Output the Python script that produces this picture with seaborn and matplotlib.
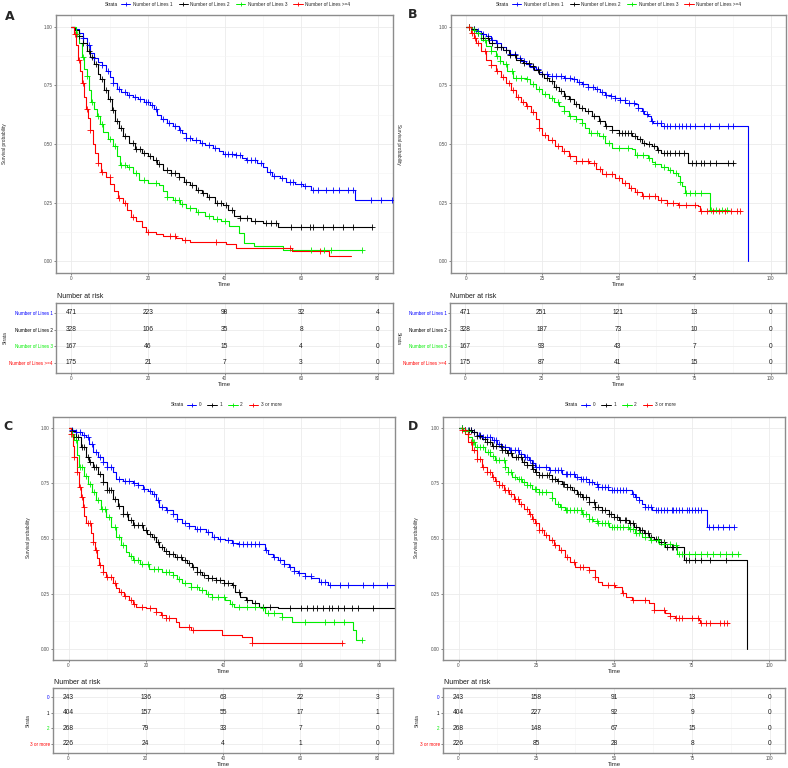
"""
Courbes de survie Kaplan-Meier (4 panneaux) avec tableaux des effectifs a risque
"""

import numpy as np
import pandas as pd
import matplotlib
matplotlib.use("Agg")
import matplotlib.pyplot as plt
from matplotlib.lines import Line2D
import seaborn as sns

sns.set_theme(style="whitegrid")
plt.rcParams['font.family'] = ['Liberation Sans', 'DejaVu Sans']

W, H = 788, 768

COLORS = ['#0000FF', '#000000', '#00EE00', '#FF0000']
STRATA_LINES = ['Number of Lines 1', 'Number of Lines 2', 'Number of Lines 3', 'Number of Lines >=4']
STRATA_PRIOR = ['0', '1', '2', '3 or more']

TICKS_80 = [0, 20, 40, 60, 80]
TICKS_100 = [0, 25, 50, 75, 100]

# ---- Panel A : courbes (temps, survie) ----
A1 = [(0, 1.0), (1, 0.99), (2, 0.975), (3, 0.95), (4, 0.92), (5, 0.89), (6, 0.865), (7, 0.85), (8, 0.835),
      (9, 0.81), (10, 0.785), (11, 0.76), (12, 0.735), (13, 0.72), (14.5, 0.71), (16, 0.70), (17.5, 0.69),
      (19, 0.68), (20.5, 0.665), (21.7, 0.65), (22.5, 0.625), (23.5, 0.605), (25, 0.59), (26.5, 0.576),
      (28, 0.56), (29, 0.545), (30, 0.525), (31.5, 0.515), (33.5, 0.505), (35, 0.495), (37, 0.485),
      (38.5, 0.47), (39.5, 0.458), (43, 0.452), (44.5, 0.44), (45.5, 0.43), (48.5, 0.42), (50, 0.40),
      (51, 0.38), (52.5, 0.365), (54.5, 0.355), (56, 0.34), (58.5, 0.33), (60.5, 0.32), (62.5, 0.305),
      (74, 0.263), (84, 0.263)]
A2 = [(0, 1.0), (1, 0.985), (2, 0.96), (3, 0.93), (4, 0.895), (5, 0.87), (6, 0.84), (7, 0.80), (7.5, 0.775),
      (8.5, 0.73), (9.5, 0.69), (10.5, 0.645), (11.5, 0.60), (12.5, 0.57), (13.5, 0.535), (15, 0.505),
      (16.5, 0.48), (18.5, 0.462), (20, 0.45), (21.3, 0.43), (22.5, 0.415), (24, 0.39), (26, 0.375),
      (28, 0.36), (29.5, 0.34), (31, 0.325), (32.5, 0.305), (34, 0.29), (35.5, 0.272), (37.5, 0.25),
      (39.5, 0.24), (41, 0.22), (42.5, 0.195), (44, 0.185), (47, 0.17), (50, 0.162), (54, 0.148), (78.5, 0.148)]
A3 = [(0, 1.0), (1.2, 0.97), (2, 0.93), (2.7, 0.87), (3.3, 0.82), (4, 0.79), (4.6, 0.73), (5.2, 0.68),
      (6, 0.65), (6.8, 0.62), (7.5, 0.585), (8.3, 0.55), (9.5, 0.52), (11, 0.49), (12, 0.45), (12.8, 0.41),
      (14.5, 0.40), (16, 0.377), (17.8, 0.345), (20, 0.335), (23, 0.327), (24, 0.30), (25, 0.275),
      (26.5, 0.26), (28.3, 0.245), (30, 0.228), (32.5, 0.21), (35, 0.192), (37, 0.18), (39, 0.17),
      (41.3, 0.15), (43.8, 0.12), (45.2, 0.08), (47.8, 0.064), (55.2, 0.05), (76, 0.05)]
A4 = [(0, 1.0), (0.8, 0.97), (1.3, 0.92), (1.8, 0.86), (2.3, 0.81), (2.8, 0.76), (3.3, 0.70), (3.9, 0.65),
      (4.4, 0.61), (5, 0.56), (5.6, 0.50), (6.2, 0.46), (7, 0.42), (7.8, 0.38), (9, 0.36), (10.2, 0.33),
      (11.2, 0.30), (12.3, 0.27), (13.5, 0.25), (14.5, 0.22), (15.5, 0.19), (17, 0.17), (18.5, 0.145),
      (19.6, 0.125), (22, 0.115), (24, 0.108), (27.4, 0.10), (29, 0.09), (31, 0.083), (40.4, 0.072),
      (43, 0.057), (57.5, 0.045), (67.4, 0.022), (73, 0.022)]
A1_CENS = [3, 4.5, 6, 8, 9.5, 11, 12.5, 14, 15, 16.5, 18, 19.5, 20, 21, 22, 24, 25.5, 27, 28.5, 30, 31, 32.5,
           34, 36, 37.5, 40, 41, 42, 43, 44, 46, 47, 48, 49.5, 52, 53, 55, 57, 58, 60, 61, 63, 64.3, 66.5,
           68.3, 70, 72.2, 73.5, 78.3, 80.9, 83.8]
A2_CENS = [2, 3, 4.5, 5.5, 6.5, 8, 9, 10, 11, 12, 13, 14, 16, 17, 18, 19, 20.5, 22, 23, 25, 26, 27, 28, 30,
           31.5, 33, 34.5, 36, 38, 39, 40.5, 42, 44, 46, 48, 50.9, 52.2, 53.5, 57.4, 60, 62.2, 63, 65.7,
           68.3, 70.9, 73.5, 78.5]
A3_CENS = [1.5, 3, 4, 5.5, 7, 8, 10, 11.5, 13, 14, 15, 17, 19, 22, 25, 27, 28, 29, 31, 33, 36, 38, 40,
           62.6, 66.1, 67.8, 76]
A4_CENS = [1, 2, 3, 4, 5, 7, 8, 10, 12.5, 14, 16, 20, 25.7, 27, 29.6, 37.8, 57, 65]

# ---- Panel B ----
B1 = [(0, 1.0), (2, 0.99), (3.5, 0.98), (5, 0.97), (6.5, 0.96), (8, 0.945), (9.8, 0.93), (11.5, 0.915),
      (13, 0.90), (14.5, 0.885), (16.3, 0.868), (18, 0.855), (19.6, 0.84), (21, 0.83), (22.8, 0.818),
      (24, 0.805), (25, 0.797), (27, 0.792), (29.3, 0.788), (32, 0.783), (34.8, 0.775), (36.5, 0.765),
      (38, 0.754), (40, 0.745), (42.4, 0.733), (44, 0.722), (45.7, 0.711), (47.5, 0.703), (48.9, 0.697),
      (50.5, 0.687), (52.2, 0.676), (55.4, 0.669), (56.5, 0.655), (57.6, 0.64), (58.5, 0.63),
      (59.8, 0.619), (60.6, 0.60), (61.4, 0.59), (64.1, 0.576), (92.4, 0.576), (92.4, 0.0)]
B2 = [(0, 1.0), (2, 0.99), (3.3, 0.974), (5.5, 0.95), (7.6, 0.93), (10, 0.915), (12, 0.90), (14, 0.88),
      (16.3, 0.86), (18.5, 0.845), (20.7, 0.832), (22.3, 0.815), (23.9, 0.797), (25.5, 0.78), (27.2, 0.768),
      (28.8, 0.745), (30.4, 0.725), (32, 0.705), (33.7, 0.69), (35.3, 0.67), (37, 0.654), (39, 0.64),
      (41.3, 0.619), (43.5, 0.60), (45.7, 0.576), (48, 0.56), (50, 0.548), (52, 0.545), (54.3, 0.533),
      (56, 0.52), (57.6, 0.505), (59, 0.50), (60.9, 0.49), (62.5, 0.475), (64.1, 0.462), (72.3, 0.46),
      (72.8, 0.42), (88, 0.42)]
B3 = [(0, 1.0), (2, 0.985), (3.3, 0.974), (5, 0.945), (6.5, 0.917), (8, 0.895), (9.8, 0.875), (11, 0.855),
      (12, 0.84), (13.5, 0.81), (15.2, 0.78), (19.6, 0.775), (21, 0.755), (22.8, 0.733), (25, 0.715),
      (27.2, 0.697), (28.8, 0.68), (30.4, 0.661), (32, 0.64), (33.7, 0.619), (36, 0.605), (38, 0.59),
      (39, 0.57), (40.2, 0.548), (43.5, 0.533), (45.7, 0.505), (47.8, 0.484), (54.3, 0.477), (55.4, 0.455),
      (59.8, 0.441), (61, 0.425), (62, 0.413), (64, 0.40), (66.3, 0.391), (68, 0.375), (69.6, 0.363),
      (70.2, 0.34), (70.7, 0.32), (71.7, 0.292), (79.3, 0.292), (79.9, 0.22), (85.9, 0.22)]
B4 = [(0, 1.0), (1.6, 0.974), (2.5, 0.95), (3.3, 0.93), (4.8, 0.895), (6.5, 0.86), (8, 0.835), (9.8, 0.81),
      (11.5, 0.785), (13, 0.76), (14.7, 0.73), (16.3, 0.70), (18, 0.68), (19.6, 0.661), (21.2, 0.635),
      (22.8, 0.605), (24, 0.57), (25, 0.54), (27, 0.515), (29.3, 0.49), (31.5, 0.47), (33.7, 0.448),
      (35.9, 0.427), (40.2, 0.42), (42.5, 0.395), (44.6, 0.37), (48.9, 0.356), (51, 0.335), (53.3, 0.313),
      (55.5, 0.295), (57.6, 0.277), (63, 0.263), (66, 0.25), (69.6, 0.242), (76.1, 0.235), (76.6, 0.213),
      (90.2, 0.213)]
B1_CENS = [1, 2.5, 4, 5.5, 7, 8.5, 10, 11.5, 13, 14.5, 16, 17.5, 19, 20.5, 22, 23.5, 25, 26.5, 28, 29.5, 31,
           32.5, 34, 35.5, 37, 38.5, 40, 41.5, 43, 44.5, 46, 47.5, 49, 50.5, 52, 53.5, 55, 56.5, 58, 59.5,
           61, 62.5, 64, 65, 66, 67, 68.5, 70, 71, 72, 73.5, 75, 78, 80, 83, 86, 87.5]
B2_CENS = [1, 2.5, 4, 5.5, 7, 8.5, 10, 11.5, 13, 14.5, 16, 17.5, 19, 20.5, 22, 23.5, 25, 26.5, 28, 29.5, 31,
           32.5, 34, 36, 38, 40, 42, 44, 46, 48, 50, 51, 52, 53, 54, 55.5, 57, 58.5, 60, 61.5, 63, 65, 66,
           67, 68.5, 70, 71.5, 74, 75.5, 77, 78, 80, 82, 86, 87.5]
B3_CENS = [1, 2.5, 4, 6, 8, 10, 11, 13, 15, 16.5, 18, 20, 22, 24, 26, 28, 30, 32, 34, 36, 38, 41, 43, 45,
           47, 50, 53, 56, 58, 60, 62, 65, 67, 69, 70.2, 72, 73.5, 75, 77, 80.5, 82, 84, 85.5]
B4_CENS = [1, 2, 3, 4, 6, 8, 10, 12, 14, 15.5, 17, 18.5, 20, 22, 24, 26, 28, 30, 32, 34, 36, 38, 40, 42,
           44, 46, 48, 50, 52, 54, 56, 58, 60, 62, 64, 66, 68, 70, 72, 75, 77, 79, 81, 83, 85, 87, 89, 90]

# ---- Panel C ----
C1 = [(0, 1.0), (1, 0.99), (2, 0.98), (3.5, 0.97), (4.5, 0.96), (5.3, 0.93), (6.2, 0.89), (7.5, 0.87),
      (8.8, 0.845), (10, 0.825), (11.4, 0.80), (12.2, 0.77), (14, 0.76), (16.5, 0.75), (17.8, 0.74),
      (19.1, 0.726), (20.5, 0.713), (21.6, 0.703), (22.5, 0.675), (23.3, 0.643), (25, 0.63), (26.8, 0.613),
      (28, 0.59), (29.3, 0.568), (31, 0.555), (32.7, 0.545), (35.3, 0.53), (37, 0.508), (38.5, 0.50),
      (40.4, 0.492), (42, 0.48), (43.8, 0.474), (49.8, 0.474), (50.7, 0.45), (51.5, 0.432), (52.8, 0.415),
      (54.1, 0.402), (55.5, 0.385), (56.7, 0.372), (58, 0.355), (59.2, 0.342), (60.9, 0.33), (62.6, 0.32),
      (64.5, 0.305), (66.9, 0.289), (84, 0.289)]
C2 = [(0, 1.0), (1, 0.985), (2, 0.96), (3.2, 0.915), (4.5, 0.87), (5.3, 0.845), (6.2, 0.824), (7.5, 0.79),
      (8.8, 0.756), (10, 0.72), (11.4, 0.68), (12.7, 0.645), (14, 0.613), (15.2, 0.585), (16.5, 0.56),
      (19.1, 0.538), (20.3, 0.52), (21.6, 0.508), (22.5, 0.485), (23.3, 0.462), (24.5, 0.445), (25.9, 0.432),
      (27.5, 0.418), (29.3, 0.402), (30.5, 0.388), (31.9, 0.372), (33, 0.35), (34.4, 0.334), (36, 0.322),
      (37.9, 0.312), (40, 0.30), (42.1, 0.289), (43, 0.26), (44.3, 0.236), (45.8, 0.22), (47.3, 0.206),
      (49, 0.191), (54.1, 0.184), (84, 0.184)]
C3 = [(0, 1.0), (0.8, 0.975), (1.5, 0.944), (2.1, 0.88), (2.8, 0.824), (3.9, 0.785), (5, 0.748), (6, 0.71),
      (7.1, 0.673), (8.4, 0.635), (9.7, 0.598), (11, 0.55), (12.2, 0.508), (13.5, 0.47), (14.8, 0.44),
      (15.6, 0.42), (16.5, 0.402), (18.5, 0.385), (20.8, 0.364), (24.2, 0.35), (26.8, 0.334), (28, 0.315),
      (29.3, 0.297), (31.5, 0.28), (33.6, 0.267), (35.3, 0.25), (37, 0.236), (40.4, 0.221), (41.5, 0.205),
      (42.6, 0.191), (49.8, 0.184), (50.7, 0.161), (55, 0.146), (57.5, 0.123), (72.5, 0.123), (73.3, 0.086),
      (74.2, 0.041), (75.5, 0.041)]
C4 = [(0, 1.0), (0.7, 0.974), (1.1, 0.92), (1.5, 0.869), (2.1, 0.80), (2.8, 0.733), (3.2, 0.69), (3.7, 0.643),
      (4.1, 0.60), (4.5, 0.568), (5.8, 0.523), (6.2, 0.485), (6.7, 0.447), (7.3, 0.41), (7.9, 0.38),
      (8.8, 0.35), (9.7, 0.327), (11.4, 0.297), (12.2, 0.275), (13.1, 0.259), (14.3, 0.24), (15.6, 0.221),
      (16.5, 0.205), (17.4, 0.191), (19.9, 0.184), (22.5, 0.169), (23.8, 0.152), (25, 0.139), (27.6, 0.123),
      (28.5, 0.101), (31.5, 0.086), (38.7, 0.086), (39.6, 0.063), (44.7, 0.056), (47.3, 0.026), (70.8, 0.026)]
C1_CENS = [1, 2, 3, 4, 5, 6, 7, 8, 9, 10, 11, 13, 14.5, 15.5, 17, 18, 19.5, 21, 22, 23, 24, 25.5, 27, 28, 30,
           31, 33, 34, 36, 37.5, 39, 41, 42.5, 44, 45, 46, 47, 48, 49, 51, 53, 54.5, 55.5, 57, 58, 59.5, 61,
           62.5, 65, 66, 67.5, 70, 72, 76, 78.5, 82]
C2_CENS = [1, 2, 2.5, 3.5, 4, 5, 5.5, 6.5, 7, 8, 9, 10, 10.5, 11, 12, 13, 14, 15, 16, 17, 18, 19, 20, 21, 22,
           23, 24, 25, 26, 27, 28, 29, 30, 31, 32, 33, 34, 35, 36, 37, 38, 39, 40, 41, 42.5, 44, 46, 48, 50,
           52, 57, 60, 61.5, 63, 64, 65.5, 67, 68, 69.5, 71, 73, 74.5, 78.5]
C3_CENS = [1, 2, 3, 3.5, 4.5, 5.5, 6.5, 7.5, 8.5, 9.5, 10.5, 12, 13, 14, 16, 17, 18, 19, 20.5, 22, 23, 25,
           26, 27, 28.5, 30, 31.5, 33, 34.5, 36, 37, 38.5, 40, 42, 44, 46, 48, 50, 51.5, 53, 55, 61, 66,
           68.5, 71, 75.5]
C4_CENS = [0.7, 1.5, 2.2, 3, 3.5, 4, 5, 5.5, 6.3, 7, 8, 9, 10, 11, 12, 13.5, 14.5, 16, 17, 19, 21, 22.5, 24,
           25, 26, 31, 32, 47.3, 70.5]

# ---- Panel D ----
D1 = [(0, 1.0), (2, 0.99), (4.3, 0.98), (6, 0.97), (7.5, 0.96), (10.7, 0.944), (12.3, 0.93), (13.9, 0.914),
      (16.1, 0.899), (19.3, 0.884), (21, 0.87), (22.5, 0.854), (23.6, 0.84), (24.7, 0.824), (29, 0.81),
      (33.2, 0.794), (37.5, 0.779), (39.5, 0.768), (41.8, 0.756), (43.5, 0.745), (45, 0.733), (48.2, 0.718),
      (55.7, 0.703), (56.8, 0.69), (57.9, 0.673), (59, 0.658), (60, 0.643), (62.2, 0.628), (79.4, 0.628),
      (79.9, 0.553), (88.5, 0.553)]
D2 = [(0, 1.0), (2, 0.99), (4.3, 0.98), (6, 0.965), (7.5, 0.95), (9, 0.935), (10.7, 0.92), (13.9, 0.90),
      (15.5, 0.885), (17.2, 0.869), (20.4, 0.846), (22, 0.832), (23.6, 0.816), (24.7, 0.80), (25.8, 0.786),
      (30, 0.77), (31.6, 0.76), (33.3, 0.748), (35, 0.733), (36.5, 0.718), (38, 0.703), (39.7, 0.688),
      (42, 0.665), (44, 0.643), (46, 0.628), (48.3, 0.613), (50, 0.598), (51.5, 0.583), (54.7, 0.568),
      (56.3, 0.553), (57.9, 0.538), (59.5, 0.523), (61.2, 0.508), (62.8, 0.497), (64.4, 0.485),
      (66.5, 0.462), (70.8, 0.462), (72.4, 0.402), (92.8, 0.402), (92.8, 0.0)]
D3 = [(0, 1.0), (1.5, 0.985), (3.2, 0.96), (4.3, 0.935), (5.4, 0.914), (8.6, 0.892), (10.2, 0.873),
      (11.8, 0.854), (15, 0.824), (16, 0.80), (17.2, 0.779), (18.8, 0.768), (20.4, 0.756), (22, 0.74),
      (23.6, 0.726), (25.8, 0.711), (29, 0.711), (30, 0.685), (31.1, 0.658), (32.7, 0.643), (34.3, 0.628),
      (39.7, 0.613), (41.8, 0.59), (43.4, 0.578), (45, 0.568), (48.3, 0.553), (54.7, 0.545), (56.8, 0.525),
      (59, 0.508), (61.5, 0.492), (64.4, 0.477), (68.7, 0.47), (70.3, 0.432), (90.1, 0.432)]
D4 = [(0, 1.0), (1, 0.99), (2.1, 0.974), (3.2, 0.935), (4.3, 0.899), (5.9, 0.86), (7.5, 0.824), (9, 0.80),
      (10.7, 0.779), (11.8, 0.76), (12.9, 0.741), (14.5, 0.72), (16.1, 0.703), (17.7, 0.68), (19.3, 0.658),
      (21, 0.635), (22.5, 0.613), (23.6, 0.59), (24.7, 0.568), (25.8, 0.538), (27.4, 0.515), (29, 0.492),
      (30.6, 0.47), (32.2, 0.447), (34.3, 0.417), (36, 0.395), (37.5, 0.372), (41.8, 0.357), (43.9, 0.327),
      (45, 0.305), (46.1, 0.289), (50.4, 0.282), (52.5, 0.252), (54, 0.235), (55.7, 0.221), (61.2, 0.206),
      (62.8, 0.176), (66.5, 0.161), (68, 0.15), (69.7, 0.139), (77.3, 0.131), (77.8, 0.119), (86.9, 0.119)]
D1_CENS = [1, 2, 3, 4, 5, 6.5, 7, 8, 9, 10, 11.5, 12, 13, 14, 15, 16.5, 17, 18, 19, 20, 21.5, 22, 23, 24,
           25, 26, 28, 29.5, 31, 32, 33, 34.5, 35, 36, 37, 38, 39.5, 40, 41, 42, 43, 44.5, 45, 46, 47, 48,
           49.5, 50, 51, 52, 53, 54, 56, 57, 58, 60, 61, 62, 63.5, 64, 65, 66, 67, 68.5, 69, 70, 71, 72,
           73.5, 74, 75, 76, 77, 78, 80.5, 82, 83.5, 85, 87, 88.5]
D2_CENS = [1, 2, 3.5, 4, 5, 6, 7, 8.5, 9, 10, 11, 12, 13.5, 14, 15, 16, 17, 18.5, 19, 20, 21, 22, 23.5, 24,
           25, 26, 27, 28.5, 29, 30, 31, 32, 33.5, 34, 35, 36, 37, 38.5, 39, 40, 41, 42, 43.5, 44, 45, 46,
           47, 48.5, 49, 50, 51, 52, 53.5, 54, 55, 56, 57, 58.5, 59, 60, 61, 62, 63.5, 64, 65, 66, 67,
           68.5, 69, 70, 73, 74, 76, 78, 81, 86]
D3_CENS = [1, 2, 3, 4.5, 5, 6, 7, 8, 9.5, 10, 11, 12, 13, 14.5, 15, 16, 17, 18, 19.5, 20, 21, 22, 23,
           24.5, 25, 26, 27, 28, 30, 32, 33, 34.5, 35, 36, 37, 38, 39.5, 40, 41, 42, 43, 44.5, 45, 46, 47,
           48, 49.5, 50, 51, 52, 53, 54.5, 55, 56, 57, 58, 60, 62, 64, 66, 68, 70, 71, 72, 74, 76, 78, 80,
           82, 84, 86, 88, 90]
D4_CENS = [1, 2, 3, 4, 5, 6, 7, 8, 9, 10, 11, 12, 13, 14, 15, 16, 17, 18, 19, 20, 22, 23, 24, 25, 26, 27,
           28, 30, 31, 33, 35, 37, 39, 40, 42, 44, 48, 50, 53, 56, 60, 63, 66, 68, 70, 71, 72, 75, 77, 78,
           79.5, 81, 84, 85.5, 86.5]

# ---- Effectifs a risque ----
RISK_A = [[471, 223, 98, 32, 4], [328, 106, 35, 8, 0], [167, 46, 15, 4, 0], [175, 21, 7, 3, 0]]
RISK_B = [[471, 251, 121, 13, 0], [328, 187, 73, 10, 0], [167, 93, 43, 7, 0], [175, 87, 41, 15, 0]]
RISK_C = [[243, 136, 63, 22, 3], [404, 157, 55, 17, 1], [268, 79, 33, 7, 0], [226, 24, 4, 1, 0]]
RISK_D = [[243, 158, 91, 13, 0], [404, 227, 92, 9, 0], [268, 148, 67, 15, 0], [226, 85, 28, 8, 0]]

GRID_MAJ = '#EBEBEB'
GRID_MIN = '#F4F4F4'
FRAME = '#8C8C8C'
TICK_TXT = '#4D4D4D'

fig = plt.figure(figsize=(W / 100, H / 100), dpi=100)


def px_axes(left, top, right, bottom):
    """Cree un axe a partir de coordonnees en pixels"""
    return fig.add_axes([left / W, 1 - bottom / H, (right - left) / W, (bottom - top) / H])


def px_text(x, y, s, **kw):
    fig.text(x / W, 1 - y / H, s, **kw)


def base_style(ax, xlim, xticks):
    ax.set_xlim(xlim)
    ax.set_xticks(xticks)
    step = xticks[1] - xticks[0]
    ax.set_xticks([t + step / 2 for t in xticks[:-1]], minor=True)
    ax.set_xticklabels([str(t) for t in xticks])
    ax.grid(True, which='major', color=GRID_MAJ, lw=0.6)
    ax.grid(True, which='minor', axis='x', color=GRID_MIN, lw=0.4)
    ax.tick_params(which='major', length=1.6, width=0.5, color='#555555', pad=0.8,
                   labelsize=3.3, labelcolor=TICK_TXT, bottom=True, left=True)
    ax.tick_params(which='minor', length=0)
    for sp in ax.spines.values():
        sp.set_color(FRAME)
        sp.set_linewidth(1.0)
    ax.set_facecolor('white')
    ax.set_xlabel('Time', fontsize=4.3, labelpad=0.5)


def draw_curves(ax, curves, censors, strata, xlim, xticks):
    rows, crows = [], []
    for name, curve, cens in zip(strata, curves, censors):
        t = np.array([p[0] for p in curve])
        s = np.array([p[1] for p in curve])
        for ti, si in curve:
            rows.append((ti, si, name))
        idx = np.searchsorted(t, np.array(cens), side='right') - 1
        for ti, ii in zip(cens, idx):
            crows.append((ti, s[ii], name))
    df = pd.DataFrame(rows, columns=['time', 'surv', 'strata'])
    cdf = pd.DataFrame(crows, columns=['time', 'surv', 'strata'])
    pal = dict(zip(strata, COLORS))
    sns.lineplot(data=df, x='time', y='surv', hue='strata', hue_order=strata, palette=pal,
                 estimator=None, sort=False, drawstyle='steps-post', linewidth=0.8,
                 legend=False, ax=ax)
    # marques de censure : une couleur par strate
    for name, c in zip(strata, COLORS):
        sub = cdf[cdf['strata'] == name]
        sns.scatterplot(data=sub, x='time', y='surv', color=c, edgecolor=c, marker='+',
                        s=13, linewidth=0.6, legend=False, ax=ax, zorder=3)
    base_style(ax, xlim, xticks)
    ax.set_ylim(-0.05, 1.05)
    ax.set_yticks([0, 0.25, 0.5, 0.75, 1.0])
    ax.set_yticks([0.125, 0.375, 0.625, 0.875], minor=True)
    ax.grid(True, which='minor', axis='y', color=GRID_MIN, lw=0.4)
    ax.set_yticklabels(['0.00', '0.25', '0.50', '0.75', '1.00'])
    ax.set_ylabel('')


def draw_risk(ax, risk, strata, xlim, xticks, title_xy):
    base_style(ax, xlim, xticks)
    ax.set_ylim(4.6, 0.4)
    ax.set_yticks([1, 2, 3, 4])
    ax.set_yticklabels(strata)
    ax.grid(False, axis='y', which='minor')
    for lab, c in zip(ax.get_yticklabels(), COLORS):
        lab.set_color(c)
    for i, row in enumerate(risk):
        for t, n in zip(xticks, row):
            ax.text(t, i + 1, str(n), ha='center', va='center', fontsize=4.8, color='#1A1A1A')
    ax.set_ylabel('')
    px_text(title_xy[0], title_xy[1], 'Number at risk', fontsize=5, ha='left', va='center', color='#1A1A1A')


def draw_legend(strata, x_key, y):
    handles = [Line2D([0], [0], color=c, lw=0.7, marker='+', markersize=3.5, markeredgewidth=0.6)
               for c in COLORS]
    fig.legend(handles, strata, loc='center left', bbox_to_anchor=(x_key / W, 1 - y / H), ncol=4,
               frameon=False, fontsize=3.4, handlelength=2.0, handletextpad=0.5, columnspacing=1.3,
               borderpad=0, borderaxespad=0)
    px_text(x_key - 3, y, 'Strata', fontsize=3.5, ha='right', va='center', color='#1A1A1A')


# Panneau A
axA = px_axes(56, 15, 393, 273)
draw_curves(axA, [A1, A2, A3, A4], [A1_CENS, A2_CENS, A3_CENS, A4_CENS], STRATA_LINES, (-4, 84), TICKS_80)
axAr = px_axes(56, 303, 393, 373)
draw_risk(axAr, RISK_A, STRATA_LINES, (-4, 84), TICKS_80, (57, 297))
draw_legend(STRATA_LINES, 121, 4.5)
px_text(5, 16, 'A', fontsize=9, fontweight='bold', ha='left', va='center', family='DejaVu Sans')
px_text(5, 144, 'Survival probability', fontsize=3.4, rotation=90, ha='center', va='center')
px_text(5, 338, 'Strata', fontsize=3.4, rotation=90, ha='center', va='center')

# Panneau B
axB = px_axes(451, 15, 786, 273)
draw_curves(axB, [B1, B2, B3, B4], [B1_CENS, B2_CENS, B3_CENS, B4_CENS], STRATA_LINES, (-5, 105), TICKS_100)
axBr = px_axes(450, 303, 786, 373)
draw_risk(axBr, RISK_B, STRATA_LINES, (-5, 105), TICKS_100, (450, 297))
draw_legend(STRATA_LINES, 512, 4.5)
px_text(408, 14, 'B', fontsize=9, fontweight='bold', ha='left', va='center', family='DejaVu Sans')
px_text(398, 144, 'Survival probability', fontsize=3.4, rotation=270, ha='center', va='center')
px_text(398, 338, 'Strata', fontsize=3.4, rotation=270, ha='center', va='center')

# Panneau C
axC = px_axes(53, 417, 394.5, 660)
draw_curves(axC, [C1, C2, C3, C4], [C1_CENS, C2_CENS, C3_CENS, C4_CENS], STRATA_PRIOR, (-4, 84), TICKS_80)
axCr = px_axes(53, 688, 393, 753)
draw_risk(axCr, RISK_C, STRATA_PRIOR, (-4, 84), TICKS_80, (54, 683))
draw_legend(STRATA_PRIOR, 187, 405)
px_text(3, 427, 'C', fontsize=9, fontweight='bold', ha='left', va='center', family='DejaVu Sans')
px_text(28, 538, 'Survival probability', fontsize=3.4, rotation=90, ha='center', va='center')
px_text(28, 721, 'Strata', fontsize=3.4, rotation=90, ha='center', va='center')

# Panneau D
axD = px_axes(443, 417, 785, 660)
draw_curves(axD, [D1, D2, D3, D4], [D1_CENS, D2_CENS, D3_CENS, D4_CENS], STRATA_PRIOR, (-5, 105), TICKS_100)
axDr = px_axes(443, 688, 785.5, 753)
draw_risk(axDr, RISK_D, STRATA_PRIOR, (-5, 105), TICKS_100, (444, 683))
draw_legend(STRATA_PRIOR, 581, 405)
px_text(408, 427, 'D', fontsize=9, fontweight='bold', ha='left', va='center', family='DejaVu Sans')
px_text(417, 538, 'Survival probability', fontsize=3.4, rotation=90, ha='center', va='center')
px_text(417, 721, 'Strata', fontsize=3.4, rotation=90, ha='center', va='center')

plt.savefig('out.png', dpi=100, facecolor='white')
plt.close()
